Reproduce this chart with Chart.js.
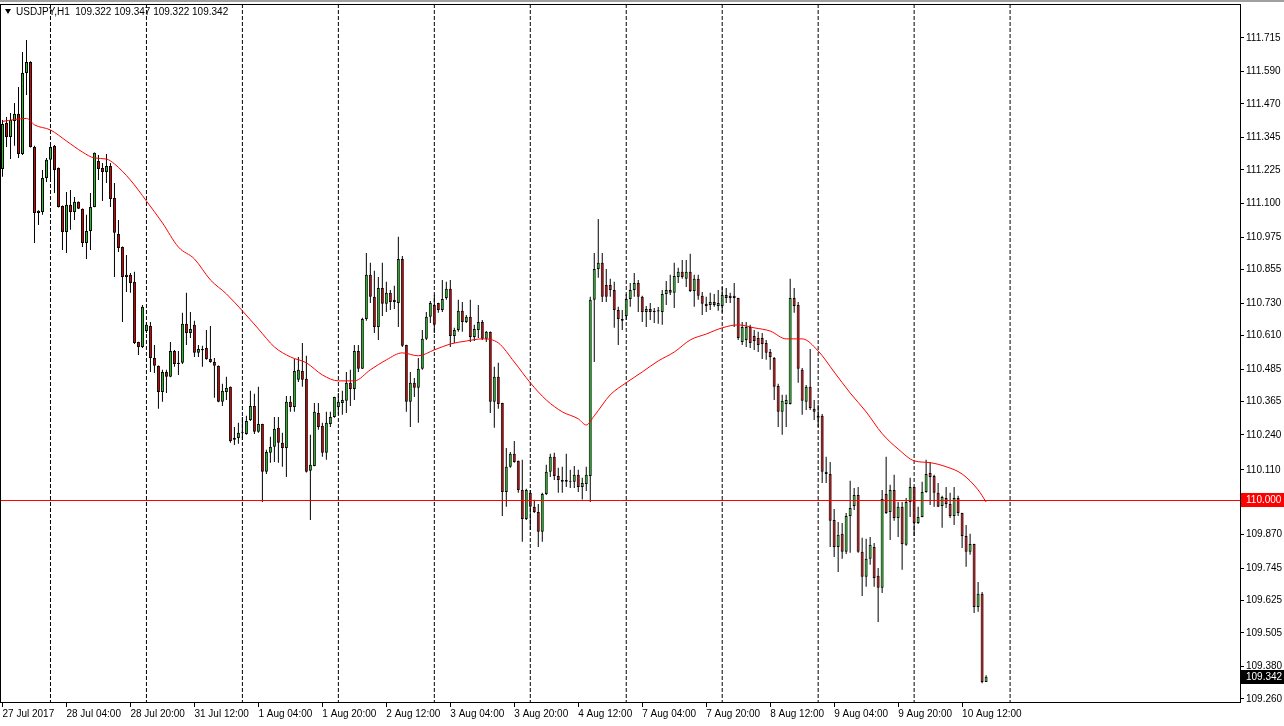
<!DOCTYPE html>
<html>
<head>
<meta charset="utf-8">
<script src="https://cdn.jsdelivr.net/npm/chart.js@4.4.1/dist/chart.umd.min.js"></script>
<style>
	html, body { margin: 0; padding: 0; background: #fff; }
	#wrap { width: 1284px; height: 726px; }
</style>
</head>
<body>
<div id="wrap"><canvas id="chart" width="1284" height="726"></canvas></div>
<script>
const titleText = 'USDJPY,H1  109.322 109.347 109.322 109.342';
const slotCount = 310;
const timeLabels = ['27 Jul 2017', '28 Jul 04:00', '28 Jul 20:00', '31 Jul 12:00', '1 Aug 04:00', '1 Aug 20:00',
	'2 Aug 12:00', '3 Aug 04:00', '3 Aug 20:00', '4 Aug 12:00', '7 Aug 04:00', '7 Aug 20:00', '8 Aug 12:00',
	'9 Aug 04:00', '9 Aug 20:00', '10 Aug 12:00'];
const dayStartBars = [12, 36, 60, 84, 108, 132, 156, 180, 204, 228, 252];
const priceTicks = [111.715, 111.590, 111.470, 111.345, 111.225, 111.100, 110.975, 110.855, 110.730, 110.610,
	110.485, 110.365, 110.240, 110.110, 109.870, 109.745, 109.625, 109.505, 109.380, 109.260];
const levelLine = 110.000;
const lastPrice = 109.342;

const opens = [
	111.228, 111.399, 111.347, 111.406, 111.433, 111.284, 111.585, 111.626, 111.310, 111.065,
	111.068, 111.195, 111.262, 111.314, 111.232, 111.091, 110.994, 111.095, 111.068, 111.106,
	111.080, 110.953, 110.998, 111.087, 111.258, 111.232, 111.217, 111.239, 111.120, 110.987,
	110.938, 110.827, 110.835, 110.809, 110.585, 110.567, 110.626, 110.645, 110.526, 110.497,
	110.400, 110.474, 110.456, 110.552, 110.508, 110.508, 110.653, 110.619, 110.649, 110.545,
	110.559, 110.563, 110.522, 110.511, 110.497, 110.363, 110.400, 110.419, 110.229, 110.229,
	110.248, 110.244, 110.296, 110.348, 110.252, 110.281, 110.103, 110.174, 110.196, 110.267,
	110.211, 110.192, 110.363, 110.344, 110.445, 110.478, 110.449, 110.107, 110.125, 110.322,
	110.274, 110.174, 110.281, 110.307, 110.344, 110.359, 110.367, 110.434, 110.411, 110.552,
	110.486, 110.671, 110.835, 110.753, 110.641, 110.786, 110.727, 110.768, 110.742, 110.730,
	110.894, 110.574, 110.363, 110.434, 110.415, 110.486, 110.597, 110.679, 110.723, 110.730,
	110.704, 110.749, 110.783, 110.608, 110.630, 110.701, 110.660, 110.679, 110.604, 110.630,
	110.660, 110.597, 110.623, 110.363, 110.456, 110.359, 110.028, 110.122, 110.170, 110.144,
	110.036, 109.928, 110.025, 109.973, 109.954, 109.880, 110.021, 110.103, 110.159, 110.088,
	110.073, 110.066, 110.070, 110.066, 110.092, 110.047, 110.058, 110.088, 110.742, 110.857,
	110.880, 110.797, 110.797, 110.779, 110.704, 110.671, 110.682, 110.745, 110.779, 110.805,
	110.753, 110.697, 110.708, 110.701, 110.703, 110.697, 110.764, 110.779, 110.768, 110.827,
	110.846, 110.820, 110.846, 110.775, 110.820, 110.757, 110.727, 110.723, 110.734, 110.719,
	110.719, 110.760, 110.757, 110.757, 110.749, 110.585, 110.593, 110.641, 110.608, 110.600,
	110.600, 110.582, 110.548, 110.526, 110.422, 110.326, 110.355, 110.355, 110.749, 110.723,
	110.482, 110.363, 110.419, 110.337, 110.304, 110.311, 110.103, 110.095, 109.924, 109.824,
	109.873, 109.806, 109.939, 109.976, 110.017, 109.806, 109.713, 109.780, 109.824, 109.717,
	109.672, 110.021, 109.954, 110.036, 109.932, 109.973, 109.832, 109.991, 110.047, 109.913,
	109.935, 110.028, 110.099, 110.088, 110.025, 109.976, 110.006, 109.984, 109.939, 110.006,
	109.950, 109.865, 109.806, 109.835, 109.601, 109.650, 109.322
];
const highs = [
	111.410, 111.421, 111.436, 111.473, 111.533, 111.663, 111.707, 111.628, 111.314, 111.075,
	111.224, 111.269, 111.325, 111.317, 111.234, 111.092, 111.143, 111.150, 111.124, 111.107,
	111.081, 111.058, 111.139, 111.289, 111.280, 111.250, 111.284, 111.250, 111.176, 111.039,
	110.940, 110.909, 110.842, 110.846, 110.586, 110.723, 110.660, 110.660, 110.574, 110.498,
	110.482, 110.482, 110.585, 110.556, 110.552, 110.694, 110.768, 110.697, 110.664, 110.574,
	110.571, 110.630, 110.645, 110.526, 110.498, 110.430, 110.456, 110.420, 110.270, 110.285,
	110.307, 110.311, 110.404, 110.393, 110.419, 110.282, 110.185, 110.233, 110.307, 110.307,
	110.248, 110.385, 110.385, 110.522, 110.530, 110.582, 110.534, 110.241, 110.359, 110.359,
	110.285, 110.326, 110.326, 110.382, 110.396, 110.404, 110.474, 110.482, 110.574, 110.574,
	110.675, 110.916, 110.880, 110.850, 110.827, 110.880, 110.809, 110.779, 110.794, 110.976,
	110.905, 110.575, 110.474, 110.452, 110.526, 110.630, 110.697, 110.738, 110.760, 110.731,
	110.816, 110.809, 110.816, 110.638, 110.742, 110.734, 110.686, 110.742, 110.649, 110.723,
	110.667, 110.626, 110.624, 110.493, 110.508, 110.360, 110.192, 110.177, 110.218, 110.145,
	110.148, 110.040, 110.036, 109.999, 109.984, 110.025, 110.129, 110.170, 110.174, 110.118,
	110.122, 110.170, 110.111, 110.125, 110.111, 110.081, 110.122, 110.753, 110.916, 111.042,
	110.916, 110.857, 110.820, 110.809, 110.716, 110.704, 110.764, 110.805, 110.842, 110.816,
	110.757, 110.719, 110.730, 110.712, 110.715, 110.779, 110.812, 110.835, 110.880, 110.861,
	110.890, 110.890, 110.913, 110.835, 110.835, 110.771, 110.753, 110.768, 110.764, 110.779,
	110.790, 110.786, 110.768, 110.805, 110.750, 110.660, 110.660, 110.649, 110.630, 110.623,
	110.619, 110.593, 110.559, 110.530, 110.430, 110.389, 110.389, 110.820, 110.786, 110.734,
	110.489, 110.426, 110.559, 110.370, 110.352, 110.318, 110.159, 110.140, 109.965, 109.917,
	109.913, 109.950, 110.070, 110.043, 110.047, 109.858, 109.854, 109.861, 109.839, 109.746,
	110.036, 110.159, 110.055, 110.092, 109.991, 109.991, 110.006, 110.081, 110.048, 109.973,
	110.066, 110.148, 110.140, 110.092, 110.062, 110.014, 110.047, 110.025, 110.047, 110.014,
	109.951, 109.906, 109.873, 109.836, 109.694, 109.657, 109.347
];
const lows = [
	111.199, 111.310, 111.265, 111.314, 111.269, 111.280, 111.503, 111.308, 110.953, 111.020,
	111.058, 111.180, 111.195, 111.139, 111.085, 110.927, 110.916, 111.002, 111.039, 111.079,
	110.938, 110.894, 110.927, 111.086, 111.187, 111.109, 111.176, 111.087, 110.827, 110.920,
	110.660, 110.771, 110.768, 110.578, 110.537, 110.563, 110.619, 110.474, 110.470, 110.337,
	110.363, 110.396, 110.454, 110.493, 110.463, 110.504, 110.574, 110.600, 110.530, 110.530,
	110.493, 110.519, 110.508, 110.378, 110.362, 110.348, 110.370, 110.211, 110.203, 110.207,
	110.222, 110.241, 110.292, 110.244, 110.248, 109.991, 110.095, 110.137, 110.140, 110.137,
	110.122, 110.084, 110.326, 110.326, 110.437, 110.419, 110.101, 109.924, 110.124, 110.259,
	110.159, 110.148, 110.270, 110.304, 110.315, 110.315, 110.322, 110.348, 110.370, 110.474,
	110.485, 110.664, 110.730, 110.619, 110.593, 110.682, 110.697, 110.704, 110.708, 110.641,
	110.567, 110.326, 110.270, 110.381, 110.285, 110.482, 110.593, 110.656, 110.619, 110.694,
	110.697, 110.742, 110.567, 110.582, 110.623, 110.623, 110.656, 110.585, 110.589, 110.600,
	110.593, 110.585, 110.322, 110.267, 110.337, 109.939, 109.973, 110.118, 110.137, 110.025,
	109.843, 109.924, 109.887, 109.950, 109.824, 109.843, 110.017, 110.084, 110.073, 110.025,
	110.025, 110.047, 110.043, 110.043, 110.028, 110.000, 110.032, 109.991, 110.511, 110.824,
	110.734, 110.734, 110.753, 110.638, 110.574, 110.630, 110.667, 110.716, 110.753, 110.697,
	110.660, 110.641, 110.667, 110.656, 110.653, 110.649, 110.723, 110.760, 110.712, 110.805,
	110.820, 110.790, 110.771, 110.716, 110.742, 110.686, 110.697, 110.704, 110.716, 110.701,
	110.694, 110.730, 110.730, 110.641, 110.593, 110.574, 110.567, 110.563, 110.556, 110.548,
	110.522, 110.519, 110.482, 110.370, 110.270, 110.241, 110.270, 110.353, 110.694, 110.434,
	110.315, 110.333, 110.333, 110.296, 110.270, 110.062, 110.062, 109.824, 109.787, 109.731,
	109.780, 109.798, 109.802, 109.961, 109.802, 109.642, 109.676, 109.758, 109.676, 109.545,
	109.653, 109.946, 109.850, 109.921, 109.861, 109.739, 109.828, 109.935, 109.865, 109.909,
	109.934, 110.025, 109.980, 109.973, 109.972, 109.895, 109.969, 109.932, 109.906, 109.939,
	109.820, 109.750, 109.795, 109.579, 109.583, 109.318, 109.322
];
const closes = [
	111.395, 111.347, 111.410, 111.433, 111.284, 111.585, 111.626, 111.310, 111.065, 111.073,
	111.195, 111.262, 111.310, 111.224, 111.087, 110.994, 111.095, 111.068, 111.106, 111.080,
	110.953, 110.998, 111.087, 111.288, 111.228, 111.217, 111.239, 111.117, 110.991, 110.935,
	110.827, 110.835, 110.805, 110.582, 110.567, 110.716, 110.649, 110.526, 110.497, 110.400,
	110.474, 110.456, 110.552, 110.504, 110.504, 110.653, 110.619, 110.634, 110.545, 110.559,
	110.555, 110.522, 110.511, 110.497, 110.363, 110.404, 110.415, 110.218, 110.222, 110.248,
	110.252, 110.292, 110.348, 110.252, 110.281, 110.103, 110.177, 110.196, 110.263, 110.211,
	110.192, 110.363, 110.344, 110.478, 110.482, 110.445, 110.103, 110.129, 110.326, 110.270,
	110.174, 110.285, 110.307, 110.381, 110.363, 110.370, 110.434, 110.411, 110.552, 110.486,
	110.671, 110.835, 110.753, 110.641, 110.786, 110.727, 110.768, 110.734, 110.734, 110.894,
	110.571, 110.363, 110.434, 110.415, 110.486, 110.597, 110.679, 110.730, 110.649, 110.704,
	110.745, 110.783, 110.608, 110.630, 110.701, 110.660, 110.679, 110.604, 110.634, 110.660,
	110.597, 110.623, 110.363, 110.456, 110.355, 110.028, 110.122, 110.170, 110.140, 110.036,
	109.928, 110.036, 109.973, 109.954, 109.880, 110.021, 110.103, 110.159, 110.088, 110.073,
	110.066, 110.073, 110.066, 110.092, 110.047, 110.062, 110.092, 110.742, 110.857, 110.880,
	110.753, 110.753, 110.779, 110.704, 110.671, 110.664, 110.745, 110.779, 110.805, 110.753,
	110.697, 110.708, 110.697, 110.697, 110.699, 110.764, 110.779, 110.768, 110.831, 110.846,
	110.827, 110.846, 110.775, 110.820, 110.757, 110.727, 110.719, 110.734, 110.723, 110.730,
	110.760, 110.749, 110.749, 110.749, 110.600, 110.641, 110.641, 110.582, 110.589, 110.574,
	110.578, 110.545, 110.530, 110.419, 110.326, 110.367, 110.370, 110.749, 110.719, 110.486,
	110.367, 110.419, 110.340, 110.326, 110.311, 110.103, 110.095, 109.921, 109.824, 109.869,
	109.806, 109.939, 109.969, 110.017, 109.806, 109.713, 109.780, 109.832, 109.709, 109.672,
	110.002, 109.950, 110.036, 109.932, 109.973, 109.835, 109.991, 110.047, 109.913, 109.935,
	110.028, 110.095, 110.084, 110.025, 109.973, 110.010, 109.984, 109.939, 110.006, 109.950,
	109.865, 109.806, 109.835, 109.601, 109.650, 109.322, 109.342
];

// moving average at a few bars
const maBars = [0, 6, 8, 12, 16, 20, 23, 26, 28, 32, 36, 40, 44, 48, 52, 56, 60, 64, 68, 72,
	76, 80, 84, 88, 92, 96, 100, 104, 108, 112, 116, 120, 124, 128, 132, 136, 140, 144, 146, 148,
	152, 156, 160, 164, 168, 172, 176, 180, 184, 188, 192, 196, 200, 204, 208, 212, 216, 220, 224, 228,
	232, 236, 240, 244, 246];
const maValues = [111.405, 111.416, 111.392, 111.373, 111.332, 111.291, 111.269, 111.265, 111.247, 111.187,
	111.109, 111.028, 110.938, 110.894, 110.816, 110.764, 110.701, 110.634, 110.567, 110.530,
	110.508, 110.463, 110.441, 110.441, 110.482, 110.519, 110.545, 110.534, 110.556, 110.578,
	110.589, 110.597, 110.582, 110.511, 110.434, 110.370, 110.326, 110.300, 110.277, 110.311,
	110.389, 110.434, 110.474, 110.515, 110.548, 110.593, 110.615, 110.638, 110.649, 110.638,
	110.626, 110.597, 110.597, 110.552, 110.474, 110.396, 110.326, 110.245, 110.188, 110.144,
	110.137, 110.122, 110.095, 110.036, 109.991];

const BULL = '#22cc22';
const BEAR = '#e00000';
const FONT = "'Liberation Sans', Arial, sans-serif";

const labels = Array.from({ length: slotCount }, (_, i) =>
	i % 16 === 0 && i / 16 < timeLabels.length ? timeLabels[i / 16] : '');
const bodies = opens.map((o, i) => [o, closes[i]]);
const wicks = lows.map((l, i) => [l, highs[i]]);
const bodyColors = opens.map((o, i) => (closes[i] >= o ? BULL : BEAR));
const maSeries = opens.map(() => null);
maBars.forEach((b, k) => { maSeries[b] = maValues[k]; });

// ---------- overlay: day separators, level line, frame, header, price boxes ----------
const overlayPlugin = {
	id: 'overlay',
	beforeDatasetsDraw(chart) {
		const { ctx, chartArea: a, scales: { x } } = chart;
		ctx.save();
		ctx.strokeStyle = '#000';
		ctx.lineWidth = 1;
		ctx.setLineDash([4, 2]);
		dayStartBars.forEach((b) => {
			const px = x.getPixelForValue(b);
			ctx.beginPath();
			ctx.moveTo(px, a.top);
			ctx.lineTo(px, a.bottom);
			ctx.stroke();
		});
		ctx.restore();
	},
	afterDatasetsDraw(chart) {
		const { ctx, chartArea: a, scales: { y } } = chart;
		const py = Math.round(y.getPixelForValue(levelLine)) + 0.5;
		ctx.save();
		ctx.strokeStyle = '#ff0000';
		ctx.lineWidth = 1;
		ctx.beginPath();
		ctx.moveTo(a.left, py);
		ctx.lineTo(a.right, py);
		ctx.stroke();
		ctx.restore();
	},
	afterDraw(chart) {
		const { ctx, chartArea: a, scales: { y }, width } = chart;
		ctx.save();
		// window edge
		ctx.fillStyle = '#a0a0a0';
		ctx.fillRect(0, 0, width, 2);
		// frame
		const t = Math.floor(a.top) + 0.5;
		const b = Math.floor(a.bottom) + 0.5;
		const l = Math.floor(a.left) + 0.5;
		const r = Math.floor(a.right) + 0.5;
		ctx.strokeStyle = '#000';
		ctx.lineWidth = 1;
		ctx.strokeRect(l, t, r - l, b - t);

		// header
		ctx.fillStyle = '#000';
		ctx.beginPath();
		ctx.moveTo(5, 9);
		ctx.lineTo(11, 9);
		ctx.lineTo(8, 14);
		ctx.closePath();
		ctx.fill();
		ctx.font = `10px ${FONT}`;
		ctx.textBaseline = 'middle';
		ctx.textAlign = 'left';
		ctx.fillText(titleText, 16, 12);

		// price boxes on the axis
		const box = (value, bg, fg) => {
			const py = Math.round(y.getPixelForValue(value));
			ctx.fillStyle = bg;
			ctx.fillRect(r + 0.5, py - 7, width - r, 14);
			ctx.fillStyle = fg;
			ctx.fillText(value.toFixed(3), 1246, py + 0.5);
		};
		box(levelLine, '#ff0000', '#fff');
		box(lastPrice, '#000', '#fff');
		ctx.restore();
	},
};

Chart.defaults.font.family = FONT;
Chart.defaults.font.size = 10;
Chart.defaults.color = '#000';

new Chart(document.getElementById('chart'), {
	type: 'bar',
	data: {
		labels,
		datasets: [
			{
				type: 'line',
				data: maSeries,
				borderColor: '#ff0000',
				borderWidth: 1,
				pointRadius: 0,
				spanGaps: true,
				cubicInterpolationMode: 'monotone',
				order: 0,
			},
			{
				data: bodies,
				backgroundColor: bodyColors,
				borderColor: '#000',
				borderWidth: 1,
				borderSkipped: false,
				inflateAmount: 0,
				barThickness: 3,
				grouped: false,
				order: 1,
			},
			{
				data: wicks,
				backgroundColor: '#000',
				borderWidth: 0,
				inflateAmount: 0,
				barThickness: 1,
				grouped: false,
				order: 2,
			},
		],
	},
	options: {
		responsive: false,
		devicePixelRatio: 1,
		animation: false,
		events: [],
		layout: { padding: { left: 0.5, top: 4, right: 0, bottom: 0 } },
		plugins: { legend: { display: false }, tooltip: { enabled: false } },
		scales: {
			x: {
				offset: true,
				grid: { offset: false, drawOnChartArea: false, tickLength: 5, color: '#000' },
				border: { display: false },
				ticks: { autoSkip: false, maxRotation: 0, minRotation: 0, align: 'start', padding: 1 },
				afterBuildTicks(scale) {
					scale.ticks = scale.ticks.filter((tk) => labels[tk.value] !== '');
				},
				afterFit(scale) {
					scale.height = 24;
					scale.paddingLeft = 0;
					scale.paddingRight = 0;
				},
			},
			y: {
				position: 'right',
				min: 109.248,
				max: 111.841,
				grid: { drawOnChartArea: false, tickLength: 4, color: '#000' },
				border: { display: false },
				ticks: { padding: 2, callback: (v) => Number(v).toFixed(3) },
				afterBuildTicks(scale) {
					scale.ticks = priceTicks.map((v) => ({ value: v }));
				},
				afterFit(scale) {
					scale.width = 44;
					scale.paddingTop = 0;
					scale.paddingBottom = 0;
				},
			},
		},
	},
	plugins: [overlayPlugin],
});
</script>
</body>
</html>
